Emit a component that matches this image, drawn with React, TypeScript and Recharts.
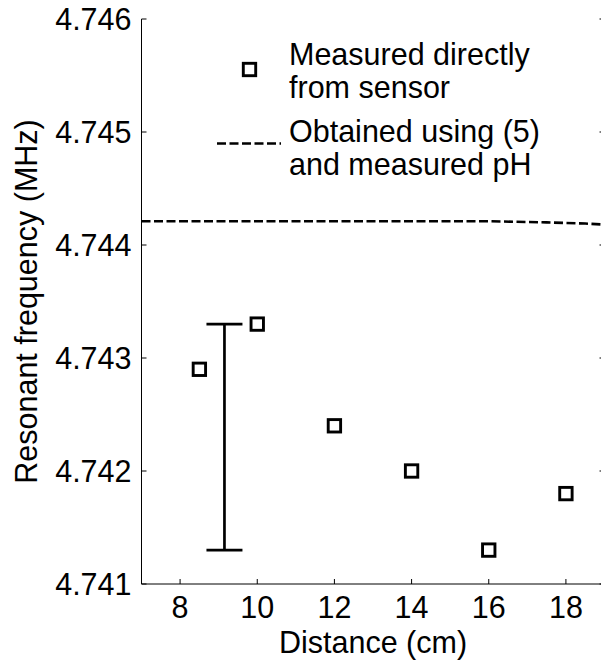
import React from 'react';
import { ComposedChart, XAxis, YAxis, Scatter, Line, ErrorBar } from 'recharts';

// Data
const distances = [8.5, 10, 12, 14, 16, 18];
const measured = [4.7429, 4.7433, 4.7424, 4.742, 4.7413, 4.7418];
const modelDistances = [7, 12, 16, 17.5, 18.5, 19];
const modelValues = [4.74421, 4.74421, 4.74421, 4.7442, 4.74419, 4.74418];
const errorX = [9.15];
const errorCenter = [4.7423];
const errorHalf = [0.001];
const xTicks = [8, 10, 12, 14, 16, 18];
const yTicks = [4.741, 4.742, 4.743, 4.744, 4.745, 4.746];

const measuredData = distances.map((x, i) => ({ x, y: measured[i] }));
const modelData = modelDistances.map((x, i) => ({ x, y: modelValues[i] }));
const errorData = errorX.map((x, i) => ({ x, y: errorCenter[i], err: errorHalf[i] }));

const FONT = 'Arial, "Liberation Sans", sans-serif';
const FS = 30.5;

const SquareShape = (props: any) => {
  const { cx, cy } = props;
  if (cx == null || cy == null) return null;
  return <rect x={cx - 6.2} y={cy - 6.2} width={12.4} height={12.4} fill="none" stroke="#000" strokeWidth={2.9} />;
};

const NoShape = () => <g />;

const BottomTick = (props: any) => {
  const { x, y, payload } = props;
  return (
    <g>
      <line x1={x} x2={x} y1={y} y2={y - 5} stroke="#000" strokeWidth={1} />
      <text x={x} y={y + 34} textAnchor="middle" fontFamily={FONT} fontSize={FS} fill="#000">
        {payload.value}
      </text>
    </g>
  );
};

const TopTick = (props: any) => {
  const { x, y } = props;
  return <line x1={x} x2={x} y1={y} y2={y + 5} stroke="#000" strokeWidth={1} />;
};

const LeftTick = (props: any) => {
  const { x, y, payload } = props;
  const ax = x + 10;
  return (
    <g>
      <line x1={ax} x2={ax + 5} y1={y} y2={y} stroke="#000" strokeWidth={1} />
      <text x={x} y={y + 11} textAnchor="end" fontFamily={FONT} fontSize={FS} fill="#000">
        {Number(payload.value).toFixed(3)}
      </text>
    </g>
  );
};

const RightTick = (props: any) => {
  const { x, y } = props;
  return <line x1={x} x2={x - 5} y1={y} y2={y} stroke="#000" strokeWidth={1} />;
};

export default function App() {
  return (
    <div style={{ position: 'absolute', left: 0, top: 0, width: 601, height: 664, overflow: 'hidden', background: '#fff' }}>
      <ComposedChart
        width={620}
        height={664}
        margin={{ top: 19, right: 0, bottom: 0, left: 0 }}
        style={{ fontFamily: FONT }}
      >
        <XAxis
          xAxisId="b"
          type="number"
          dataKey="x"
          domain={[7, 19]}
          ticks={xTicks}
          allowDataOverflow
          orientation="bottom"
          height={80}
          tickSize={0}
          tickMargin={0}
          tickLine={false}
          axisLine={{ stroke: '#000', strokeWidth: 1 }}
          tick={<BottomTick />}
          interval={0}
        />
        <XAxis
          xAxisId="t"
          type="number"
          dataKey="x"
          domain={[7, 19]}
          ticks={xTicks}
          allowDataOverflow
          orientation="top"
          height={0}
          tickSize={0}
          tickMargin={0}
          tickLine={false}
          axisLine={{ stroke: '#000', strokeWidth: 1 }}
          tick={<TopTick />}
          interval={0}
        />
        <YAxis
          yAxisId="l"
          type="number"
          dataKey="y"
          domain={[4.741, 4.746]}
          ticks={yTicks}
          allowDataOverflow
          orientation="left"
          width={141.5}
          tickSize={0}
          tickMargin={10}
          tickLine={false}
          axisLine={{ stroke: '#000', strokeWidth: 1 }}
          tick={<LeftTick />}
          interval={0}
        />
        <YAxis
          yAxisId="r"
          type="number"
          dataKey="y"
          domain={[4.741, 4.746]}
          ticks={yTicks}
          allowDataOverflow
          orientation="right"
          width={15.5}
          tickSize={0}
          tickMargin={0}
          tickLine={false}
          axisLine={{ stroke: '#000', strokeWidth: 1 }}
          tick={<RightTick />}
          interval={0}
        />
        <Line
          xAxisId="b"
          yAxisId="l"
          data={modelData}
          dataKey="y"
          type="linear"
          stroke="#000"
          strokeWidth={2.6}
          strokeDasharray="9 3.5"
          dot={false}
          activeDot={false}
          isAnimationActive={false}
        />
        <Scatter
          xAxisId="b"
          yAxisId="l"
          data={errorData}
          dataKey="y"
          shape={<NoShape />}
          isAnimationActive={false}
        >
          <ErrorBar dataKey="err" direction="y" width={18} stroke="#000" strokeWidth={2.7} isAnimationActive={false} />
        </Scatter>
        <Scatter
          xAxisId="b"
          yAxisId="l"
          data={measuredData}
          dataKey="y"
          shape={<SquareShape />}
          isAnimationActive={false}
        />
        {/* Legend */}
        <g>
          <rect x={243.3} y={63.3} width={12.4} height={12.4} fill="none" stroke="#000" strokeWidth={2.9} />
          <text x={289} y={65} fontFamily={FONT} fontSize={FS} fill="#000">Measured directly</text>
          <text x={289} y={98} fontFamily={FONT} fontSize={FS} fill="#000">from sensor</text>
          <line x1={217} x2={281} y1={143.5} y2={143.5} stroke="#000" strokeWidth={2.6} strokeDasharray="9 3.5" />
          <text x={289} y={142} fontFamily={FONT} fontSize={FS} fill="#000">Obtained using (5)</text>
          <text x={289} y={175} fontFamily={FONT} fontSize={FS} fill="#000">and measured pH</text>
        </g>
        <text x={373} y={653} textAnchor="middle" fontFamily={FONT} fontSize={FS} fill="#000">Distance (cm)</text>
        <text
          x={37}
          y={301.5}
          textAnchor="middle"
          fontFamily={FONT}
          fontSize={FS}
          fill="#000"
          transform="rotate(-90 37 301.5)"
        >
          Resonant frequency (MHz)
        </text>
      </ComposedChart>
    </div>
  );
}
